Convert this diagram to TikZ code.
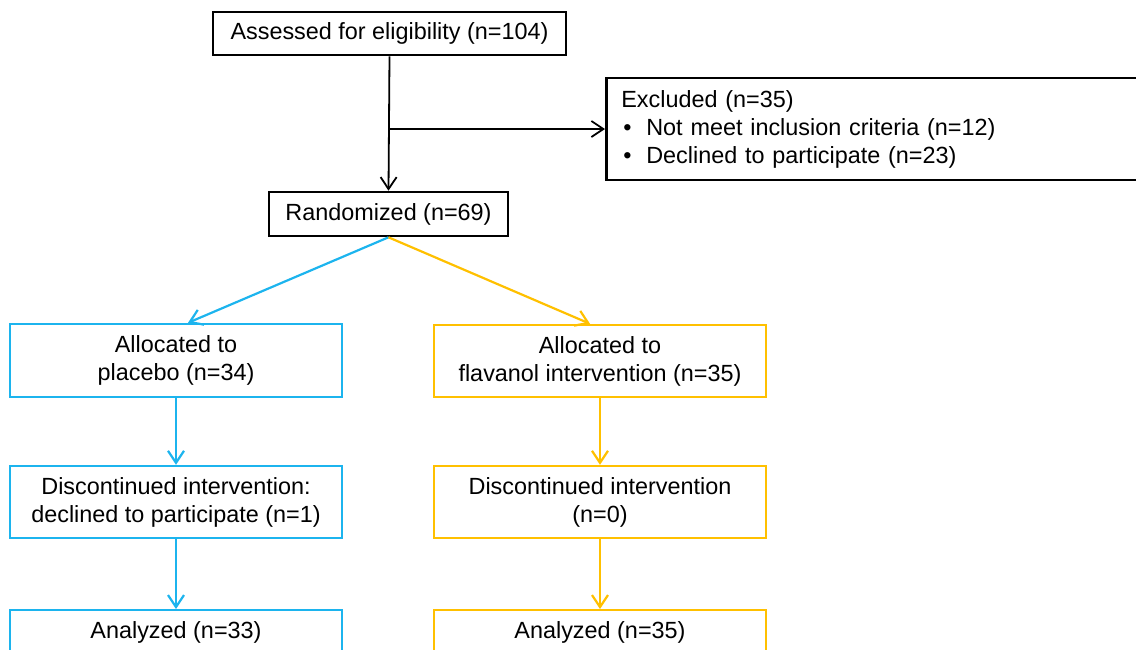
\documentclass[tikz,border=0pt]{standalone}
\usepackage{fontspec}
\setmainfont{Liberation Sans}
\usetikzlibrary{arrows.meta,calc}
\definecolor{cblue}{HTML}{1CB4EE}
\definecolor{cyell}{HTML}{FFC000}
\tikzset{
  base/.style={draw, rectangle, inner sep=0pt, align=center,
    font=\fontsize{11.7}{14}\selectfont},
  blackbox/.style={base, draw=black, line width=1.3pt},
  bluebox/.style={base, draw=cblue, line width=1.2pt, minimum width=166pt},
  yellbox/.style={base, draw=cyell, line width=1.2pt, minimum width=166pt},
  arr/.style={-{Straight Barb[length=6pt,width=8pt,line width=0.9pt]}, line width=0.9pt},
  carr/.style={-{Straight Barb[length=6pt,width=8pt,line width=1.1pt]}, line width=1.1pt},
  barr/.style={carr, draw=cblue},
  yarr/.style={carr, draw=cyell},
}
\begin{document}
\begin{tikzpicture}[x=0.5pt,y=-0.5pt]
\useasboundingbox (0,0) rectangle (1136,649);

\node[blackbox, minimum width=176.5pt, minimum height=21.5pt] (assess) at (389.5,33.5) {Assessed for eligibility (n=104)};
\node[blackbox, minimum width=272.5pt, minimum height=51pt, anchor=west, align=left,
      text width=257.5pt, inner xsep=7pt] (excl) at (605,129)
  {Excluded (n=35)\\
   \makebox[12.5pt][l]{\hspace{1pt}•}Not meet inclusion criteria (n=12)\\
   \makebox[12.5pt][l]{\hspace{1pt}•}Declined to participate (n=23)};
\node[blackbox, minimum width=119.5pt, minimum height=22pt] (rand) at (388.5,214) {Randomized (n=69)};

\node[bluebox, minimum height=36.5pt] (plac) at (176,360.5) {Allocated to\\placebo (n=34)};
\node[yellbox, minimum height=36pt] (flav) at (600,361) {Allocated to\\flavanol intervention (n=35)};

\node[bluebox, minimum height=36pt] (disc1) at (176,502) {Discontinued intervention:\\declined to participate (n=1)};
\node[yellbox, minimum height=36pt] (disc2) at (600,502) {Discontinued intervention\\(n=0)};

\node[bluebox, minimum height=22pt, anchor=north] (an1) at (176,609) {Analyzed (n=33)};
\node[yellbox, minimum height=22pt, anchor=north] (an2) at (600,609) {Analyzed (n=35)};

\draw[arr] (assess.south) -- (rand.north);
\coordinate (br) at (assess.south |- excl.west);
\draw[arr] (br) -- (excl.west);

\draw[barr] (rand.south) -- ($(plac.north)+(12,0)$);
\draw[yarr] (rand.south) -- ($(flav.north)+(-10,0)$);

\draw[barr] (plac.south) -- (disc1.north);
\draw[barr] (disc1.south) -- (an1.north);
\draw[yarr] (flav.south) -- (disc2.north);
\draw[yarr] (disc2.south) -- (an2.north);
\end{tikzpicture}
\end{document}
